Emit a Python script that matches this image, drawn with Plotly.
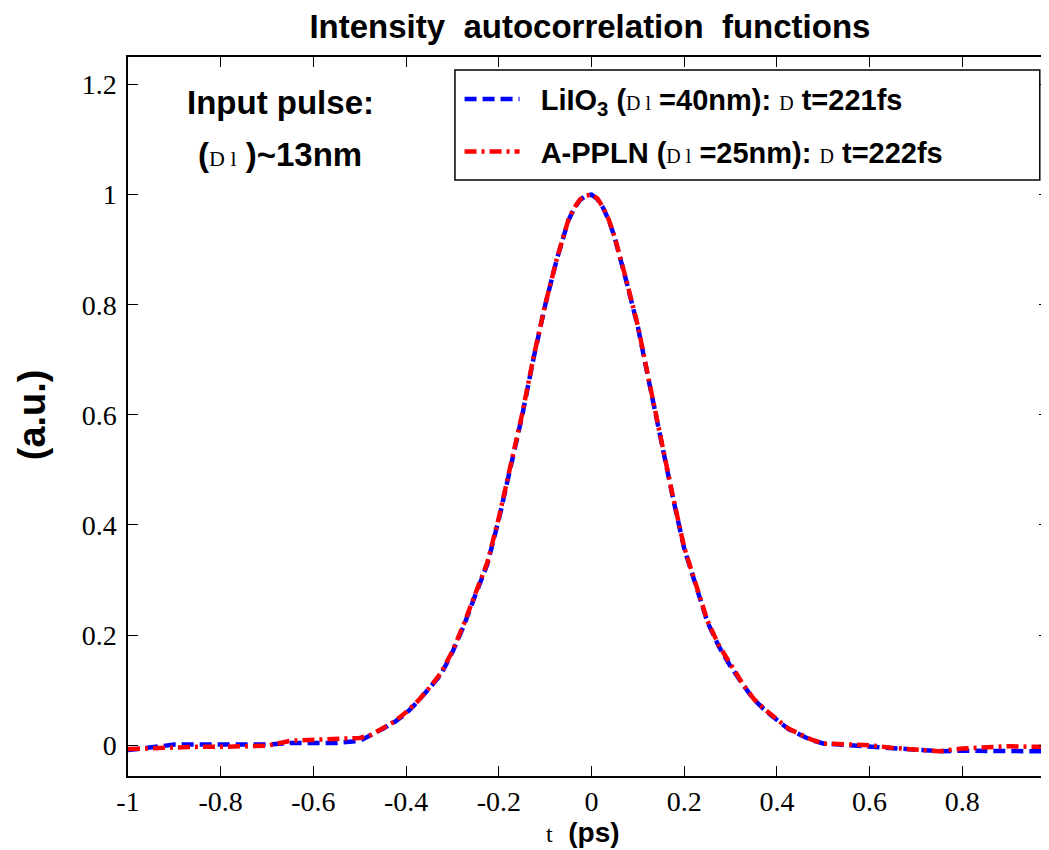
import plotly.graph_objects as go

# delay (ps)
t = [-1.0, -0.95, -0.9, -0.85, -0.8, -0.75, -0.7, -0.65, -0.6, -0.55, -0.5,
     -0.475, -0.45, -0.425, -0.4, -0.375, -0.35, -0.325, -0.3, -0.275, -0.25,
     -0.225, -0.2, -0.175, -0.15, -0.125, -0.1, -0.075, -0.05, -0.0375, -0.025,
     -0.0125, 0.0, 0.0125, 0.025, 0.0375, 0.05, 0.075, 0.1, 0.125, 0.15, 0.175,
     0.2, 0.225, 0.25, 0.275, 0.3, 0.325, 0.35, 0.375, 0.4, 0.425, 0.45, 0.475,
     0.5, 0.55, 0.6, 0.65, 0.7, 0.75, 0.8, 0.85, 0.9, 0.95, 0.99]

liio3 = [-0.009, -0.004, 0.001, 0.001, 0.001, 0.001, 0.001, 0.004, 0.004, 0.004, 0.008,
         0.018, 0.030, 0.042, 0.058, 0.079, 0.102, 0.128, 0.169, 0.218, 0.274,
         0.328, 0.410, 0.500, 0.597, 0.703, 0.799, 0.882, 0.953, 0.975, 0.990,
         0.998, 1.0, 0.992, 0.976, 0.953, 0.922, 0.843, 0.760, 0.656, 0.552, 0.452,
         0.357, 0.287, 0.224, 0.179, 0.143, 0.112, 0.083, 0.063, 0.046, 0.029, 0.019, 0.009,
         0.003, 0.0, -0.001, -0.004, -0.008, -0.011, -0.010, -0.011, -0.011, -0.011, -0.011]

appln = [-0.007, -0.005, -0.003, -0.003, -0.003, -0.002, -0.001, 0.008, 0.010, 0.011, 0.013,
         0.019, 0.031, 0.043, 0.060, 0.080, 0.104, 0.131, 0.171, 0.221, 0.277,
         0.331, 0.413, 0.503, 0.600, 0.705, 0.800, 0.883, 0.954, 0.976, 0.991,
         0.998, 1.0, 0.993, 0.977, 0.954, 0.923, 0.845, 0.762, 0.658, 0.554, 0.454,
         0.359, 0.289, 0.226, 0.181, 0.145, 0.113, 0.084, 0.064, 0.047, 0.030, 0.020, 0.010,
         0.003, 0.002, 0.0, -0.005, -0.007, -0.011, -0.006, -0.003, -0.002, -0.003, -0.003]

x_ticks = [-1, -0.8, -0.6, -0.4, -0.2, 0, 0.2, 0.4, 0.6, 0.8]
x_labels = ["-1", "-0.8", "-0.6", "-0.4", "-0.2", "0", "0.2", "0.4", "0.6", "0.8"]
y_ticks = [0, 0.2, 0.4, 0.6, 0.8, 1.0, 1.2]
y_labels = ["0", "0.2", "0.4", "0.6", "0.8", "1", "1.2"]

SANS = "Liberation Sans, Arial, sans-serif"
SERIF = "Liberation Serif, Times New Roman, serif"


def sym(s, size=20):
    # symbol-font glyphs that fell back to a plain serif face in the original
    return f"<span style='font-family:{SERIF};font-weight:normal;font-size:{size}px'>{s}</span>"


fig = go.Figure()
fig.add_trace(go.Scatter(
    x=t, y=liio3, mode="lines", legendgroup="a",
    name=f"<b>&nbsp;&nbsp;LiIO<sub>3</sub> ({sym('D l')} =40nm): {sym('D')} t=221fs</b>",
    line=dict(color="#0000ff", width=4.5, dash="12px,6px"),
))
fig.add_trace(go.Scatter(
    x=t, y=appln, mode="lines", legendgroup="b",
    name=f"<b>&nbsp;&nbsp;A-PPLN ({sym('D l')} =25nm): {sym('D')} t=222fs</b>",
    line=dict(color="#ff0000", width=4.5, dash="12px,5px,3px,5px"),
))

fig.add_annotation(x=-0.672, y=1.167, xref="x", yref="y", showarrow=False,
                   xanchor="center", yanchor="middle",
                   text="<b>Input pulse:</b>", font=dict(family=SANS, size=33, color="black"))
fig.add_annotation(x=-0.672, y=1.073, xref="x", yref="y", showarrow=False,
                   xanchor="center", yanchor="middle",
                   text=f"<b>({sym('D l', 22)} )~13nm</b>", font=dict(family=SANS, size=33, color="black"))

# axis titles
fig.add_annotation(x=0.494, y=-0.079, xref="paper", yref="paper", showarrow=False,
                   xanchor="center", yanchor="middle",
                   text=f"{sym('t', 24)}  <b>(ps)</b>", font=dict(family=SANS, size=28, color="black"))
fig.add_annotation(x=-0.104, y=0.502, xref="paper", yref="paper", showarrow=False, textangle=-90,
                   xanchor="center", yanchor="middle",
                   text="<b>(a.u.)</b>", font=dict(family=SANS, size=38, color="black"))

# legend frame
fig.add_shape(type="rect", xref="paper", yref="paper", x0=0.355, x1=0.990, y0=0.829, y1=0.982,
              line=dict(color="black", width=1.5), fillcolor="rgba(0,0,0,0)", layer="above")

axis_common = dict(showline=True, linecolor="black", linewidth=1.5, mirror="allticks",
                   ticks="inside", ticklen=10, tickcolor="black", showgrid=False, zeroline=False,
                   automargin=False, tickfont=dict(family=SERIF, size=28, color="black"))

# the page body adds an 8px offset, so the figure is drawn 8px smaller
fig.update_layout(
    width=1041, height=842,
    paper_bgcolor="white", plot_bgcolor="white",
    margin=dict(l=120, r=0, t=49, b=74),
    title=dict(text="<b>Intensity  autocorrelation  functions</b>", x=0.559, xanchor="center",
               y=0.978, yanchor="middle", font=dict(family=SANS, size=33, color="black")),
    xaxis=dict(range=[-1, 0.987], tickvals=x_ticks, ticktext=x_labels, **axis_common),
    yaxis=dict(range=[-0.056, 1.25], tickvals=y_ticks, ticktext=y_labels,
               ticklabelstandoff=4, **axis_common),
    legend=dict(x=0.36, y=0.977, xanchor="left", yanchor="top",
                bgcolor="rgba(0,0,0,0)", borderwidth=0, itemwidth=55,
                font=dict(family=SANS, size=29, color="black"),
                tracegroupgap=12),
    showlegend=True,
)

fig.write_html("out.html")
